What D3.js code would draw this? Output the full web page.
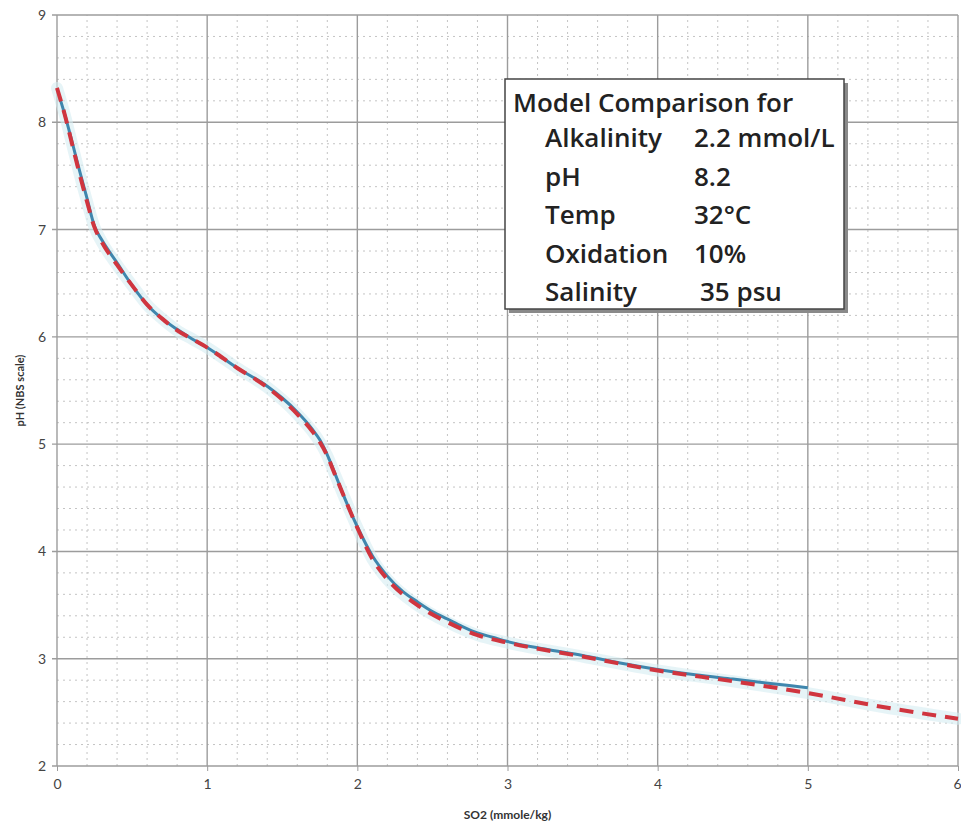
<!DOCTYPE html>
<html>
<head>
<meta charset="utf-8">
<script src="https://cdn.jsdelivr.net/npm/d3@7"></script>
<style>
  html, body { margin: 0; padding: 0; background: #fff; }
  svg { display: block; }
</style>
</head>
<body>
<svg id="chart" width="961" height="831"></svg>
<script>
// measured curve (blue, solid)
const measX = [0.02, 0.05, 0.1, 0.15, 0.2, 0.25, 0.3, 0.4, 0.5, 0.6, 0.7, 0.8, 0.9, 1.0, 1.2, 1.4, 1.5, 1.6, 1.7, 1.75, 1.8, 1.85, 1.9, 2.0, 2.1, 2.2, 2.3, 2.4, 2.5, 2.6, 2.7, 2.8, 2.9, 3.0, 3.25, 3.5, 3.75, 4.0, 4.25, 4.5, 4.75, 5.0];
const measPH = [8.22, 8.08, 7.82, 7.55, 7.29, 7.03, 6.9, 6.69, 6.48, 6.3, 6.17, 6.07, 5.98, 5.9, 5.71, 5.54, 5.43, 5.3, 5.14, 5.04, 4.9, 4.73, 4.55, 4.23, 3.96, 3.77, 3.63, 3.53, 3.44, 3.37, 3.3, 3.24, 3.2, 3.16, 3.09, 3.03, 2.96, 2.9, 2.85, 2.81, 2.77, 2.73];

// model curve (red, dashed)
const modelX = [0, 0.05, 0.1, 0.15, 0.2, 0.25, 0.3, 0.4, 0.5, 0.6, 0.7, 0.8, 0.9, 1.0, 1.2, 1.4, 1.6, 1.7, 1.75, 1.8, 1.85, 1.9, 2.0, 2.1, 2.2, 2.4, 2.6, 2.8, 3.0, 3.5, 4.0, 4.5, 5.0, 5.5, 6.0];
const modelPH = [8.32, 8.08, 7.8, 7.52, 7.26, 7.02, 6.88, 6.67, 6.48, 6.3, 6.17, 6.06, 5.98, 5.9, 5.71, 5.53, 5.28, 5.12, 5.02, 4.89, 4.72, 4.55, 4.22, 3.93, 3.74, 3.5, 3.34, 3.22, 3.15, 3.02, 2.89, 2.79, 2.68, 2.55, 2.44];

const xTicks = [0, 1, 2, 3, 4, 5, 6];
const yTicks = [2, 3, 4, 5, 6, 7, 8, 9];

const boxTitle = 'Model Comparison for';
const boxLabels = ['Alkalinity', 'pH', 'Temp', 'Oxidation', 'Salinity'];
const boxValues = ['2.2 mmol/L', '8.2', '32\u00B0C', '10%', '35 psu'];

const margin = { top: 15, right: 3, bottom: 65, left: 57 };
const width = 961, height = 831;

const svg = d3.select('#chart');
const x = d3.scaleLinear().domain([0, 6]).range([margin.left, width - margin.right]);
const y = d3.scaleLinear().domain([2, 9]).range([height - margin.bottom, margin.top]);

const font = 'Lato, "Open Sans", sans-serif';
const boxFont = '"Open Sans", Lato, sans-serif';

// minor grid (dotted, every 0.2)
const minorX = d3.range(0, 6.001, 0.2).filter(v => Math.abs(v - Math.round(v)) > 0.01);
const minorY = d3.range(2, 9.001, 0.2).filter(v => Math.abs(v - Math.round(v)) > 0.01);
const grid = svg.append('g').attr('class', 'grid');
grid.selectAll('.minor-x')
  .data(minorX)
  .join('line')
  .attr('class', 'minor-x')
  .attr('x1', d => x(d)).attr('x2', d => x(d))
  .attr('y1', y(2)).attr('y2', y(9))
  .attr('stroke', '#c4c4c4')
  .attr('stroke-dasharray', '2,4');
grid.selectAll('.minor-y')
  .data(minorY)
  .join('line')
  .attr('class', 'minor-y')
  .attr('x1', x(0)).attr('x2', x(6))
  .attr('y1', d => y(d)).attr('y2', d => y(d))
  .attr('stroke', '#c4c4c4')
  .attr('stroke-dasharray', '2,4');

// major grid
grid.selectAll('.major-x')
  .data(xTicks)
  .join('line')
  .attr('class', 'major-x')
  .attr('x1', d => x(d)).attr('x2', d => x(d))
  .attr('y1', y(2)).attr('y2', y(9))
  .attr('stroke', '#9c9c9c')
  .attr('stroke-width', 1.4);
grid.selectAll('.major-y')
  .data(yTicks)
  .join('line')
  .attr('class', 'major-y')
  .attr('x1', x(0) - 5).attr('x2', x(6))
  .attr('y1', d => y(d)).attr('y2', d => y(d))
  .attr('stroke', '#9c9c9c')
  .attr('stroke-width', 1.4);

// axes (labels only, lines come from grid)
const xAxis = svg.append('g')
  .attr('transform', `translate(0, ${y(2)})`)
  .call(d3.axisBottom(x).tickValues(xTicks).tickFormat(d3.format('d')).tickSize(5).tickPadding(8));
const yAxis = svg.append('g')
  .attr('transform', `translate(${x(0)}, 0)`)
  .call(d3.axisLeft(y).tickValues(yTicks).tickFormat(d3.format('d')).tickSize(0).tickPadding(11));
[xAxis, yAxis].forEach(a => {
  a.select('.domain').remove();
  a.selectAll('.tick line').attr('stroke', '#9c9c9c');
  a.selectAll('text')
    .attr('font-family', font)
    .attr('font-size', 14)
    .attr('fill', '#444');
});
// last x label sits on the window edge
xAxis.selectAll('.tick text').filter(d => d === 6).attr('text-anchor', 'end').attr('dx', 3);

svg.append('text')
  .attr('x', x(3))
  .attr('y', 819)
  .attr('text-anchor', 'middle')
  .attr('font-family', font)
  .attr('font-weight', 'bold')
  .attr('font-size', 12)
  .attr('fill', '#333')
  .text('SO2 (mmole/kg)');

svg.append('text')
  .attr('transform', `translate(24, ${y(5.5)}) rotate(-90)`)
  .attr('text-anchor', 'middle')
  .attr('font-family', font)
  .attr('font-weight', 'bold')
  .attr('font-size', 11)
  .attr('fill', '#333')
  .text('pH (NBS scale)');

// curves
const line = d3.line()
  .x(d => x(d[0]))
  .y(d => y(d[1]))
  .curve(d3.curveMonotoneX);

const meas = measX.map((v, i) => [v, measPH[i]]);
const model = modelX.map((v, i) => [v, modelPH[i]]);

// pale scatter haze around the data
svg.append('path')
  .datum(model)
  .attr('d', line)
  .attr('fill', 'none')
  .attr('stroke', '#d6edf2')
  .attr('stroke-width', 12)
  .attr('stroke-opacity', 0.6)
  .attr('stroke-linecap', 'round');

svg.append('path')
  .datum(meas)
  .attr('d', line)
  .attr('fill', 'none')
  .attr('stroke', '#3f86ad')
  .attr('stroke-width', 3);

svg.append('path')
  .datum(model)
  .attr('d', line)
  .attr('fill', 'none')
  .attr('stroke', '#d0353f')
  .attr('stroke-width', 4)
  .attr('stroke-dasharray', '14,9');

// annotation box
const box = svg.append('g').attr('transform', 'translate(505, 79)');
box.append('rect')
  .attr('x', 4).attr('y', 4)
  .attr('width', 339).attr('height', 230)
  .attr('fill', '#8a8a8a');
box.append('rect')
  .attr('width', 339).attr('height', 230)
  .attr('fill', '#fff')
  .attr('stroke', '#444')
  .attr('stroke-width', 1.5);
box.append('text')
  .attr('x', 8).attr('y', 33)
  .attr('font-family', boxFont)
  .attr('font-weight', 600)
  .attr('font-size', 26)
  .attr('fill', '#222')
  .text(boxTitle);
box.selectAll('.lbl')
  .data(boxLabels)
  .join('text')
  .attr('class', 'lbl')
  .attr('x', 40)
  .attr('y', (d, i) => 68 + i * 38.5)
  .attr('font-family', boxFont)
  .attr('font-weight', 600)
  .attr('font-size', 26)
  .attr('fill', '#222')
  .text(d => d);
box.selectAll('.val')
  .data(boxValues)
  .join('text')
  .attr('class', 'val')
  .attr('x', (d, i) => (i === 4 ? 195 : 189))
  .attr('y', (d, i) => 68 + i * 38.5)
  .attr('font-family', boxFont)
  .attr('font-weight', 600)
  .attr('font-size', 26)
  .attr('fill', '#222')
  .text(d => d);
</script>
</body>
</html>
